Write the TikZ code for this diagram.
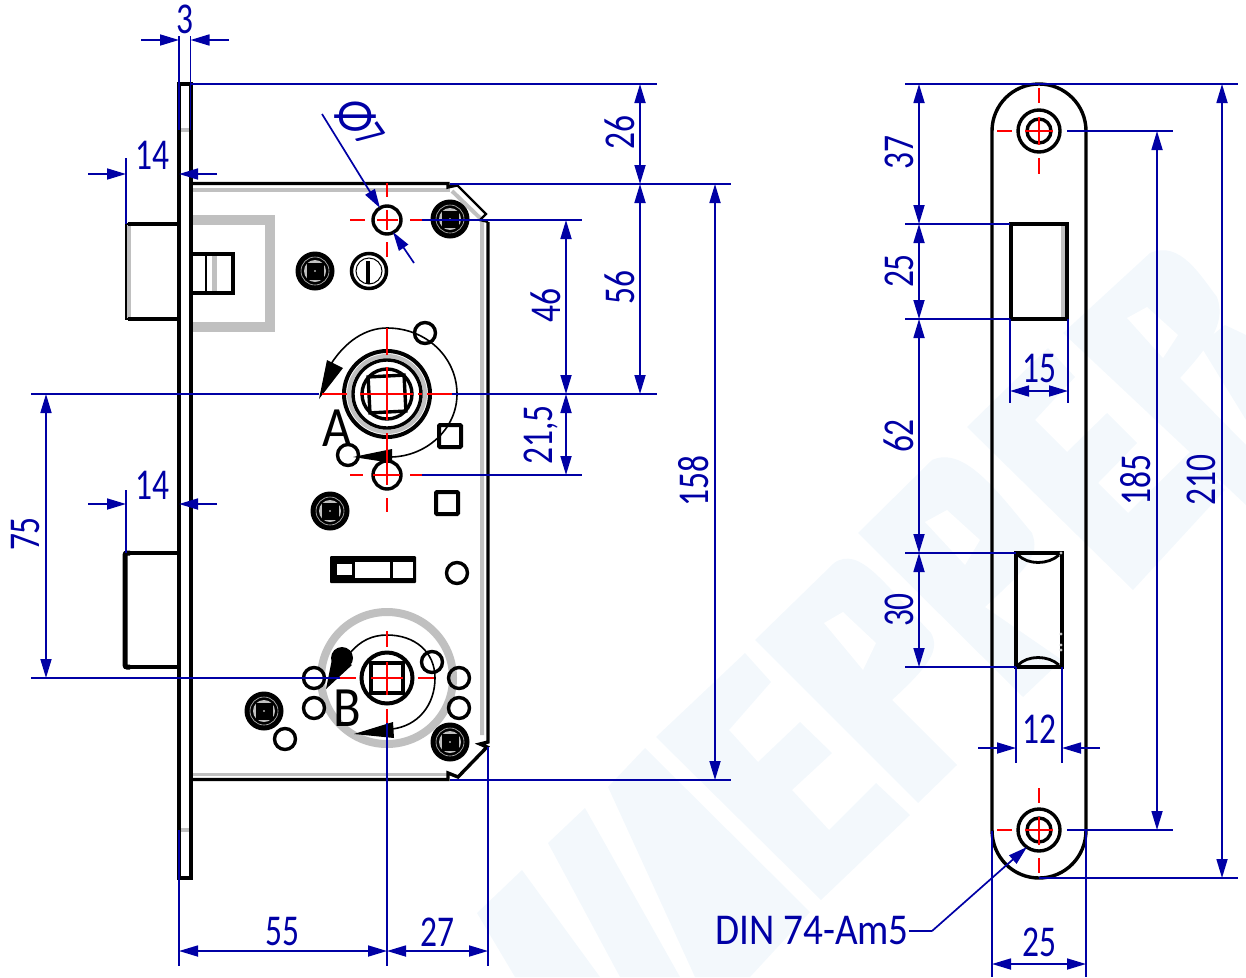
\documentclass[tikz,border=0pt]{standalone}
\usepackage{fontspec}
\newfontfamily\dinfont[FakeStretch=0.76]{Carlito}
\newfontfamily\dinwide[FakeStretch=0.89]{Carlito}
\usepackage{color}
\definecolor{myblue}{RGB}{0,0,165}
\definecolor{myred}{RGB}{255,0,0}
\definecolor{mygrey}{RGB}{192,192,192}
\definecolor{mywash}{RGB}{243,248,252}
\usetikzlibrary{arrows.meta,calc}
\tikzstyle{outline}=[draw=black,line width=3.4pt]
\tikzstyle{thinline}=[draw=black,line width=1.6pt]
\tikzstyle{hidden}=[draw=mygrey,line width=4pt]
\tikzstyle{centerline}=[draw=myred,line width=1.6pt]
\tikzstyle{dimline}=[draw=myblue,line width=1.7pt]
\tikzstyle{dimboth}=[dimline,{Triangle[length=19pt,width=11pt]}-{Triangle[length=19pt,width=11pt]}]
\tikzstyle{dimto}=[dimline,-{Triangle[length=19pt,width=11pt]}]
\tikzstyle{dimtext}=[text=myblue,inner sep=0pt,font=\dinfont\fontsize{44}{44}\selectfont]
\tikzstyle{marktext}=[text=black,inner sep=0pt,font=\dinwide\fontsize{57}{57}\selectfont]
\newcommand{\crossscrew}[1]{
  \fill[black] (#1) circle[radius=19.5pt];
  \draw[mygrey,line width=.6pt] (#1) circle[radius=14pt];
  \fill[mygrey] (#1) circle[radius=11pt];
  \fill[black] ($(#1)+(-8.5,-8.5)$) rectangle ($(#1)+(8.5,8.5)$);
  \fill[white] (#1) circle[radius=.8pt];
}
\begin{document}
\begin{tikzpicture}[x=1pt,y=-1pt]
\useasboundingbox (0,0) rectangle (1246,977);
\coordinate (holetop) at (387,220);
\coordinate (holemid) at (387,475);
\coordinate (hubA) at (387,394);
\coordinate (hubB) at (387,678);
\coordinate (platetop) at (1039,131);
\coordinate (platebot) at (1039,830);

% watermark behind the drawing
\fill[mywash] (656,737)--(745,653)--(771,682)--(729,730)--(758,762)--(800,722)--(832,753)--(792,790)--(829,830)--(876,783)--(910,815)--(821,900)--cycle;
\fill[mywash] (755,640)--(834,563) .. controls (860,545) and (885,585) .. (931,633) .. controls (940,650) and (930,665) .. (892,700)--(957,765)--(918,803)--cycle;
\fill[white] (824,623)--(843,612)--(876,643)--(863,670)--cycle;
\fill[mywash] (858,533)--(932,460) .. controls (965,445) and (1000,495) .. (1032,533) .. controls (1040,555) and (1030,565) .. (985,607)--(1062,660)--(1023,697)--cycle;
\fill[white] (925,522)--(947,510)--(980,540)--(965,565)--cycle;
\fill[mywash] (967,427)--(1048,348)--(1075,377)--(1035,420)--(1067,452)--(1107,413)--(1137,443)--(1098,483)--(1128,513)--(1190,452)--(1225,490)--(1133,590)--cycle;
\fill[mywash] (1063,333)--(1150,253) .. controls (1180,240) and (1200,275) .. (1217,297) .. controls (1225,320) and (1215,340) .. (1180,378)--(1246,445)--(1246,505)--cycle;
\fill[white] (1127,318)--(1147,307)--(1178,335)--(1163,358)--cycle;
\fill[mywash] (1200,345)--(1225,325)--(1246,335)--(1246,420)--cycle;
\fill[mywash] (608,787)--(645,748)--(810,912)--(750,977)--(695,977)--cycle;
\fill[mywash] (548,843)--(585,808)--(680,977)--(620,977)--cycle;
\fill[mywash] (477,913)--(522,870)--(600,977)--(515,977)--cycle;

% lock case, hidden edges
\draw[hidden] (191,189.5)--(450,189.5);
\draw[hidden] (452,191)--(480,218)--(482,222)--(482,735);
\draw[hidden,line width=3pt] (191,774)--(447,774);
\draw[hidden,line width=10pt] (189,220)--(270,220)--(270,327)--(189,327);
\draw[hidden,line width=5pt] (214,254)--(214,292);
\draw[hidden] (128.5,225)--(128.5,318);
\draw[hidden,line width=8pt] (hubB) circle[radius=66pt];
\draw[hidden] (hubA) circle[radius=38pt];
\draw[hidden] (179,130)--(191,130);
\draw[hidden] (179,830)--(191,830);
\draw[hidden] (1063,225)--(1063,318);

% lock case, visible edges
\draw[outline] (179,878)--(179,84)--(191,84)--(191,878)--cycle;
\draw[outline] (191,183.5)--(448,183.5)--(448,187)--(457,185);
\draw[thinline,line width=2.2pt] (457,185)--(486,214)--(480,220)--(488,222);
\draw[outline] (488,222)--(488,742)--(480,744)--(487,747)--(458,777)--(448,773)--(448,779.5)--(191,779.5);
\draw[thinline,line width=2pt] (179,224)--(126,224)--(126,319)--(179,319);
\draw[outline] (179,224)--(128,224) (179,319)--(128,319);
\draw[outline] (191,254)--(233,254)--(233,293)--(191,293);
\draw[thinline,line width=2.5pt] (206,254)--(206,293);
\draw[outline,line width=5pt,rounded corners=2pt] (130,553)--(125,553)--(125,667)--(130,667);
\draw[outline] (124,553)--(179,553) (124,667)--(179,667);

% screws
\crossscrew{450,219}
\crossscrew{315,271}
\crossscrew{330,511}
\crossscrew{264,711}
\crossscrew{450,742}
\draw[outline,line width=3.5pt] (369,271) circle[radius=17.5pt];
\draw[thinline,line width=1pt] (369,271) circle[radius=13pt];
\draw[outline,line width=4pt] (368,261)--(368,284);

% holes and squares
\draw[outline] (holetop) circle[radius=14pt];
\draw[outline] (holemid) circle[radius=14pt];
\foreach \hx/\hy in {425/333,348/455,457/573,314/708,285/739,432/662,459/678,459/708}
  \draw[outline] (\hx,\hy) circle[radius=10.5pt];
\draw[outline,fill=white] (314,678) circle[radius=10.5pt];
\draw[outline,line width=4pt,rounded corners=1pt] (439,425) rectangle (461,447);
\draw[outline,line width=4pt,rounded corners=1pt] (436,492) rectangle (458,514);
\fill[black,rounded corners=1pt] (330,556) rectangle (416,583);
\fill[white] (337,564) rectangle (352,575);
\fill[white] (355,562) rectangle (390,578);
\fill[white] (393,562) rectangle (413,578);

% hub A
\draw[outline,line width=4pt] (hubA) circle[radius=43pt];
\draw[outline] (hubA) circle[radius=34pt];
\draw[outline] (hubA) circle[radius=25pt];
\draw[outline,fill=white,rotate around={3:(hubA)}] (369,376) rectangle (405,412);
\draw[thinline] (331,364) .. controls (345,342) and (365,328) .. (387,328) .. controls (427,328) and (457,358) .. (457,394) .. controls (457,430) and (425,457) .. (390,457);
\fill[black] (319,399)--(327,360)--(343,368)--cycle;
\fill[black] (353,457)--(392,449)--(392,463)--cycle;
\node[marktext] (markA) at (337,428) {A};

% hub B
\draw[outline,line width=4pt] (hubB) circle[radius=25.5pt];
\draw[outline] (371,663) rectangle (403,693);
\draw[thinline] (350,653) .. controls (360,641) and (372,635) .. (387,635) .. controls (415,635) and (435,652) .. (435,678) .. controls (435,705) and (418,726) .. (392,729);
\fill[black] (342,658) circle[radius=11pt];
\fill[black] (326,689)--(333,654)--(352,665)--cycle;
\fill[black] (354,734)--(393,722)--(394,738)--cycle;
\node[marktext] (markB) at (347,708) {B};

% cover plate
\draw[outline] (992,131)--(992,830) .. controls (992,857) and (1013,878) .. (1039,878) .. controls (1065,878) and (1086,857) .. (1086,830)--(1086,131) .. controls (1086,105) and (1065,84) .. (1039,84) .. controls (1013,84) and (992,105) .. (992,131)--cycle;
\foreach \pt in {platetop,platebot} {
  \draw[outline] (\pt) circle[radius=21pt];
  \draw[outline] (\pt) circle[radius=12pt];
}
\draw[outline,line width=4pt] (1067,224)--(1010.5,224)--(1010.5,319)--(1067,319)--cycle;
\draw[outline,line width=4pt] (1016,553)--(1016,667)--(1062,667)--(1062,553)--cycle;
\draw[outline,line width=2.8pt] (1018,555) .. controls (1028,565) and (1048,565) .. (1059,555);
\draw[outline,line width=2.8pt] (1018,665) .. controls (1028,655) and (1048,655) .. (1059,665);
\foreach \dy in {553,634,645,650}
  \fill[mygrey] (1061,\dy) circle[radius=1.7pt];

% center lines
\draw[centerline] (350,220)--(365,220) (377,220)--(398,220) (410,220)--(422,220) (387,183)--(387,197) (387,210)--(387,230) (387,242)--(387,257);
\draw[centerline] (350,475)--(363,475) (373,475)--(400,475) (410,475)--(422,475) (387,433)--(387,485) (387,498)--(387,512);
\draw[centerline] (322,394)--(347,394) (360,394)--(413,394) (418,394)--(422,394) (427,394)--(452,394) (387,328)--(387,355) (387,367)--(387,420);
\draw[centerline] (340,678)--(356,678) (371,678)--(403,678) (418,678)--(434,678) (387,631)--(387,647) (387,662)--(387,695) (387,709)--(387,723);
\draw[centerline] (997,131)--(1012,131) (1025,131)--(1053,131) (1067,131)--(1082,131) (1039,88)--(1039,103) (1039,117)--(1039,145) (1039,158)--(1039,174);
\draw[centerline] (997,830)--(1012,830) (1025,830)--(1053,830) (1067,830)--(1082,830) (1039,788)--(1039,803) (1039,817)--(1039,845) (1039,858)--(1039,873);

% extension lines, lock case
\draw[dimline] (179,36)--(179,130) (190.5,36)--(190.5,130);
\draw[dimline] (191,84)--(657,84);
\draw[dimline] (450,184)--(731,184);
\draw[dimline] (422,220)--(582,220);
\draw[dimline] (31,394)--(319,394) (452,394)--(657,394);
\draw[dimline] (422,475)--(582,475);
\draw[dimline] (31,678)--(340,678);
\draw[dimline] (450,780)--(731,780);
\draw[dimline] (126,158)--(126,224) (126,490)--(126,553);
\draw[dimline] (179,830)--(179,966) (387,723)--(387,966) (488,747)--(488,966);

% dimensions, lock case
\draw[dimto] (141,40)--(179,40);
\draw[dimto] (229,40)--(190.5,40);
\node[dimtext] (wplate) at (185,19) {3};
\draw[dimboth] (640,84)--(640,184);
\node[dimtext,rotate=90] (htop) at (620,133) {26};
\draw[dimboth] (640,184)--(640,394);
\node[dimtext,rotate=90] (hcase) at (620,288) {56};
\draw[dimboth] (566,220)--(566,394);
\node[dimtext,rotate=90] (hhole) at (546,306) {46};
\draw[dimboth] (566,394)--(566,475);
\node[dimtext,rotate=90] (hmid) at (541,435) {21,5};
\draw[dimboth] (715,184)--(715,780);
\node[dimtext,rotate=90] (hbody) at (694,481) {158};
\draw[dimto] (88,174)--(126,174);
\draw[dimto] (217,174)--(179,174);
\node[dimtext] (blatch) at (152,155) {14};
\draw[dimto] (88,504)--(126,504);
\draw[dimto] (217,504)--(179,504);
\node[dimtext] (bbolt) at (152,485) {14};
\draw[dimboth] (46,394)--(46,678);
\node[dimtext,rotate=90] (hhubs) at (26,534) {75};
\draw[dimboth] (179,951)--(387,951);
\node[dimtext] (wback) at (282,932) {55};
\draw[dimboth] (387,951)--(488,951);
\node[dimtext] (wfront) at (437,932) {27};
\draw[dimto] (322,114)--(380,208);
\draw[dimto] (414,263)--(393,232);
\node[dimtext,rotate=-90,font=\dinfont\fontsize{56}{56}\selectfont] (dphi) at (355,117) {Φ};
\node[dimtext,rotate=-55] (dval) at (370,135) {7};

% extension lines, cover plate
\draw[dimline] (905,84)--(1238,84);
\draw[dimline] (905,224)--(1010,224) (905,319)--(1010,319) (905,553)--(1016,553) (905,667)--(1016,667);
\draw[dimline] (1067,131)--(1173,131) (1067,830)--(1173,830);
\draw[dimline] (1039,878)--(1238,878);
\draw[dimline] (1010,319)--(1010,403) (1068,319)--(1068,403);
\draw[dimline] (1016,667)--(1016,763) (1062,667)--(1062,763);
\draw[dimline] (992,831)--(992,977) (1086,831)--(1086,977);

% dimensions, cover plate
\draw[dimboth] (919,84)--(919,224);
\node[dimtext,rotate=90] (hone) at (899,153) {37};
\draw[dimboth] (919,224)--(919,319);
\node[dimtext,rotate=90] (htwo) at (899,271) {25};
\draw[dimboth] (919,319)--(919,553);
\node[dimtext,rotate=90] (hthree) at (899,436) {62};
\draw[dimboth] (919,553)--(919,667);
\node[dimtext,rotate=90] (hfour) at (899,610) {30};
\draw[dimboth] (1157,131)--(1157,830);
\node[dimtext,rotate=90] (hscrews) at (1136,480) {185};
\draw[dimboth] (1222,84)--(1222,878);
\node[dimtext,rotate=90] (hplate) at (1201,480) {210};
\draw[dimboth] (1010,391)--(1068,391);
\node[dimtext] (wlatch) at (1039,368) {15};
\draw[dimto] (978,748)--(1016,748);
\draw[dimto] (1100,748)--(1062,748);
\node[dimtext] (wbolt) at (1039,729) {12};
\draw[dimboth] (992,964)--(1086,964);
\node[dimtext] (wplatetwo) at (1039,942) {25};
\node[dimtext,font=\dinwide\fontsize{44}{44}\selectfont] (din) at (812,931) {DIN 74-Am5};
\draw[dimline] (din.east)--(932,931);
\draw[dimto] (932,931)--(1027,847);
\end{tikzpicture}
\end{document}
